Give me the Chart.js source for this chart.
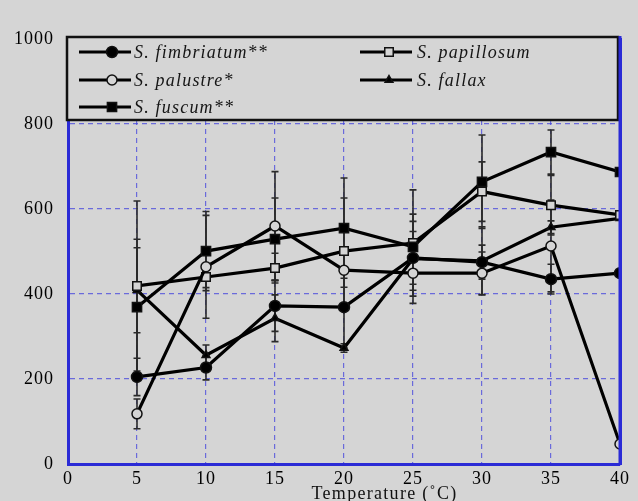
<!DOCTYPE html>
<html><head><meta charset="utf-8">
<script src="https://cdn.jsdelivr.net/npm/chart.js@4.4.1/dist/chart.umd.min.js"></script>
<style>
html,body{margin:0;padding:0;background:#d5d5d5;overflow:hidden;}
#wrap{width:638px;height:501px;overflow:hidden;position:relative;}
canvas{display:block;}
</style></head><body>
<div id="wrap"><canvas id="c" width="638" height="501"></canvas></div>
<script>
// ---- data ----
const temperatures = [5, 10, 15, 20, 25, 30, 35, 40];
const fimbriatum = [205, 227, 372, 369, 485, 475, 435, 449];
const palustre   = [118, 464, 560, 456, 449, 449, 513, 47];
const fuscum     = [369, 501, 529, 555, 511, 664, 734, 687];
const papillosum = [419, 440, 461, 501, 520, 641, 609, 586];
const fallax     = [409, 256, 343, 273, 483, 478, 557, 578];
// symmetric error bar half-lengths
const fimbriatumErr = [44, 29, 60, 95, 62, 40, 35, 0];
const palustreErr   = [35, 121, 128, 40, 40, 50, 108, 0];
const fuscumErr     = [160, 93, 97, 118, 60, 110, 52, 0];
const papillosumErr = [200, 25, 35, 125, 125, 70, 70, 0];
const fallaxErr     = [100, 24, 55, 10, 105, 80, 15, 0];
const seriesNames = ['S. fimbriatum**', 'S. palustre*', 'S. fuscum**', 'S. papillosum', 'S. fallax'];
const xTickValues = [0, 5, 10, 15, 20, 25, 30, 35, 40];
const yTickValues = [0, 200, 400, 600, 800, 1000];
const xTitle = 'Temperature (\u02DAC)';

const BG = '#d5d5d5';
const BLUE = '#2b2bd6';
const GRID = 'rgba(70,70,220,0.75)';
const SERIF = '"Liberation Serif", "DejaVu Serif", serif';
const FONT = {family: SERIF, size: 18};

function pts(arr){ return arr.map((v,i)=>({x: temperatures[i], y: v})); }
function ds(label, values, errs, style, radius, fill, bw){
  return {label, data: pts(values), errorBars: errs, borderColor:'#000', borderWidth:3.2,
    pointStyle: style, pointRadius: radius, pointHoverRadius: radius,
    pointBackgroundColor: fill, pointBorderColor:'#111', pointBorderWidth: bw,
    tension:0, fill:false};
}
const datasets = [
  ds(seriesNames[0], fimbriatum, fimbriatumErr, 'circle', 5.5, '#000', 1.5),
  ds(seriesNames[1], palustre, palustreErr, 'circle', 5, BG, 1.5),
  ds(seriesNames[2], fuscum, fuscumErr, 'rect', 6.5, '#000', 1.5),
  ds(seriesNames[3], papillosum, papillosumErr, 'rect', 6, BG, 1.5),
  ds(seriesNames[4], fallax, fallaxErr, 'triangle', 4.5, '#000', 1.5)
];

const bgPlugin = {id:'bg', beforeDraw(chart){
  const c=chart.ctx; c.save(); c.fillStyle=BG; c.fillRect(0,0,chart.width,chart.height); c.restore();
  c.letterSpacing='1px';
}};

const errPlugin = {id:'err', beforeDatasetsDraw(chart){
  const c=chart.ctx, x=chart.scales.x, y=chart.scales.y;
  c.save(); c.strokeStyle='#2a2a2a'; c.lineWidth=1.6;
  chart.data.datasets.forEach(d=>{
    d.errorBars.forEach((e,i)=>{
      if(!e) return;
      const v=d.data[i].y, px=x.getPixelForValue(d.data[i].x);
      const t=y.getPixelForValue(v+e), b=y.getPixelForValue(Math.max(0,v-e));
      c.beginPath(); c.moveTo(px,t); c.lineTo(px,b);
      c.moveTo(px-3.5,t); c.lineTo(px+3.5,t);
      c.moveTo(px-3.5,b); c.lineTo(px+3.5,b);
      c.stroke();
    });
  });
  c.restore();
}};

const legendPlugin = {id:'boxLegend', afterDraw(chart){
  const c=chart.ctx, ca=chart.chartArea;
  const L=ca.left-1, T=ca.top-2, W=ca.right-ca.left-1, H=83;
  c.save();
  c.fillStyle=BG; c.fillRect(L,T,W,H);
  c.strokeStyle='#111'; c.lineWidth=2.5; c.strokeRect(L,T,W,H);
  const rows=[15,43,70];
  const cols=[{l:12,r:64,m:45,t:67},{l:293,r:345,m:322,t:350}];
  const order=[[0,0,0],[1,0,1],[2,0,2],[3,1,0],[4,1,1]];
  c.font='italic 18px ' + SERIF;
  c.letterSpacing='1.2px';
  c.textBaseline='middle'; c.textAlign='left';
  order.forEach(([di,ci,ri])=>{
    const d=chart.data.datasets[di], col=cols[ci], yy=T+rows[ri];
    c.strokeStyle='#000'; c.lineWidth=3;
    c.beginPath(); c.moveTo(L+col.l,yy); c.lineTo(L+col.r,yy); c.stroke();
    c.fillStyle=d.pointBackgroundColor; c.strokeStyle=d.pointBorderColor; c.lineWidth=d.pointBorderWidth;
    Chart.helpers.drawPoint(c,{pointStyle:d.pointStyle,radius:d.pointRadius,rotation:0,borderWidth:d.pointBorderWidth},L+col.m,yy);
    c.fillStyle='#151515';
    c.fillText(d.label, L+col.t, yy+1);
  });
  c.strokeStyle=BLUE; c.lineWidth=3;
  c.beginPath(); c.moveTo(ca.right,T-1); c.lineTo(ca.right,ca.bottom); c.stroke();
  // x axis title (centred slightly right of the plot centre, as in the reference)
  const xs=chart.scales.x;
  c.font='18px ' + SERIF; c.letterSpacing='1.3px';
  c.fillStyle='#111'; c.textAlign='center'; c.textBaseline='middle';
  c.fillText(xTitle, (xs.getPixelForValue(20)+xs.getPixelForValue(25))/2 + 6, 494);
  c.restore();
}};

const gridColor = (ctx, ends) => ends.includes(ctx.tick.value) ? 'rgba(0,0,0,0)' : GRID;

new Chart(document.getElementById('c'), {
  type:'line',
  data:{datasets},
  plugins:[bgPlugin, errPlugin, legendPlugin],
  options:{
    responsive:false, animation:false,
    layout:{padding:{top:39,right:18,left:0,bottom:0}},
    plugins:{legend:{display:false}, tooltip:{enabled:false}},
    scales:{
      x:{type:'linear', min:0, max:40,
        afterBuildTicks:s=>{s.ticks=xTickValues.map(v=>({value:v}));},
        afterFit:s=>{s.height=37;},
        ticks:{font:FONT, color:'#000', padding:4, maxRotation:0, callback:v=>String(v)},
        grid:{color:c=>gridColor(c,[0,40]), lineWidth:1.2, drawTicks:false},
        border:{color:BLUE, width:3, dash:[5,4]}
      },
      y:{min:0, max:1000,
        afterBuildTicks:s=>{s.ticks=yTickValues.map(v=>({value:v}));},
        afterFit:s=>{s.width=68;},
        ticks:{font:FONT, color:'#000', padding:14, callback:v=>String(v)},
        grid:{color:c=>gridColor(c,[0,1000]), lineWidth:1.2, drawTicks:false},
        border:{color:BLUE, width:3, dash:[5,4]}
      },
      yR:{position:'right', min:0, max:1000,
        afterFit:s=>{s.width=0;},
        ticks:{display:false}, grid:{display:false, drawTicks:false},
        border:{color:BLUE, width:3}
      }
    }
  }
});
</script>
</body></html>
